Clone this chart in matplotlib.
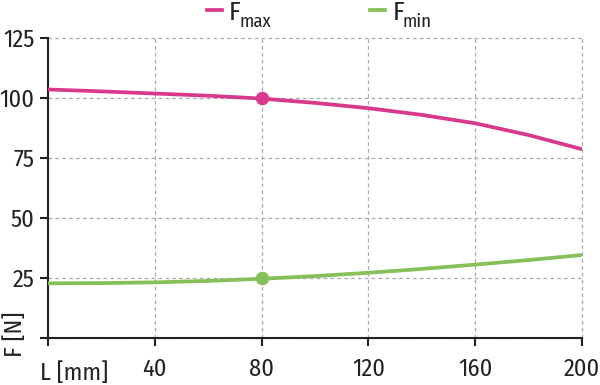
import matplotlib
matplotlib.use("Agg")
import matplotlib.pyplot as plt

# okunan değerler (her 20 mm)
L = [0, 20, 40, 60, 80, 100, 120, 140, 160, 180, 200]
F_MAX = [103.6, 102.8, 101.9, 101.0, 99.8, 98.0, 95.8, 93.0, 89.5, 84.6, 78.7]
F_MIN = [22.8, 22.9, 23.2, 23.8, 24.7, 25.8, 27.2, 28.8, 30.6, 32.5, 34.6]
NOKTA_L = [80]
NOKTA_MAX = [100]
NOKTA_MIN = [25]
X_TICKS = [0, 40, 80, 120, 160, 200]
Y_TICKS = [0, 25, 50, 75, 100, 125]
LEJANT = ["F", "F"]
ALT_INDIS = ["max", "min"]

_PEMBE = "#d9398a"
_YESIL = "#86c05a"
_GRID = "#ababab"
_KOYU = "#222222"
_FONT = "Fira Sans Condensed"
_FS = 17.5
_DPI = 100

plt.rcParams["font.family"] = [_FONT, "Barlow Semi Condensed", "DejaVu Sans"]

fig = plt.figure(figsize=(6.0, 3.85), dpi=_DPI)
ax = fig.add_axes([0.08, 0.122, 0.89, 0.779])

ax.plot(L, F_MAX, color=_PEMBE, lw=2.7, label=LEJANT[0], zorder=3)
ax.plot(L, F_MIN, color=_YESIL, lw=2.7, label=LEJANT[1], zorder=3)
ax.plot(NOKTA_L, NOKTA_MAX, "o", color=_PEMBE, ms=8.7, zorder=4)
ax.plot(NOKTA_L, NOKTA_MIN, "o", color=_YESIL, ms=8.7, zorder=4)

ax.set_xlim(0, 200)
ax.set_ylim(0, 125)
ax.set_xticks(X_TICKS)
ax.set_yticks(Y_TICKS)
ax.set_xticklabels([""] + [str(v) for v in X_TICKS[1:]])
ax.set_yticklabels([""] + [str(v) for v in Y_TICKS[1:]])

ax.grid(True, color=_GRID, ls=(0, (3, 2.5)), lw=0.9, zorder=1)
for ln in ax.get_xgridlines() + ax.get_ygridlines():
    ln.set_clip_on(False)

for s in ("top", "right"):
    ax.spines[s].set_visible(False)
for s in ("left", "bottom"):
    ax.spines[s].set_color(_KOYU)
    ax.spines[s].set_linewidth(1.5)

ax.tick_params(axis="x", direction="out", length=5.8, width=1.5, colors=_KOYU,
               labelsize=_FS, pad=8)
ax.tick_params(axis="y", direction="out", length=5.8, width=1.5, colors=_KOYU,
               labelsize=_FS, pad=4)

# eksen adları 0 etiketlerinin yerinde
fig.text(40 / 600, 1 - 373 / 385, "L [mm]", fontsize=_FS, color=_KOYU,
         ha="left", va="center")
fig.text(15 / 600, 1 - 334 / 385, "F [N]", fontsize=_FS, color=_KOYU,
         ha="center", va="center", rotation=90)

# lejant: "F" + neredeyse aynı boyda, aşağıda alt indis
leg = ax.legend(loc="upper left", bbox_to_anchor=(207 / 600, 1.0),
                bbox_transform=fig.transFigure, ncol=2, frameon=False,
                fontsize=19, handlelength=0.57, handletextpad=0.27,
                columnspacing=4.9, borderpad=0, borderaxespad=0)
fig.canvas.draw()
for t, alt in zip(leg.get_texts(), ALT_INDIS):
    t.set_color(_KOYU)
    bb = t.get_window_extent()
    x0, y0 = fig.transFigure.inverted().transform((bb.x1 - 1, bb.y0 - 2))
    fig.text(x0, y0, alt, fontsize=13.5, color=_KOYU, ha="left", va="baseline")

fig.savefig("out.png", dpi=_DPI, facecolor="white")
